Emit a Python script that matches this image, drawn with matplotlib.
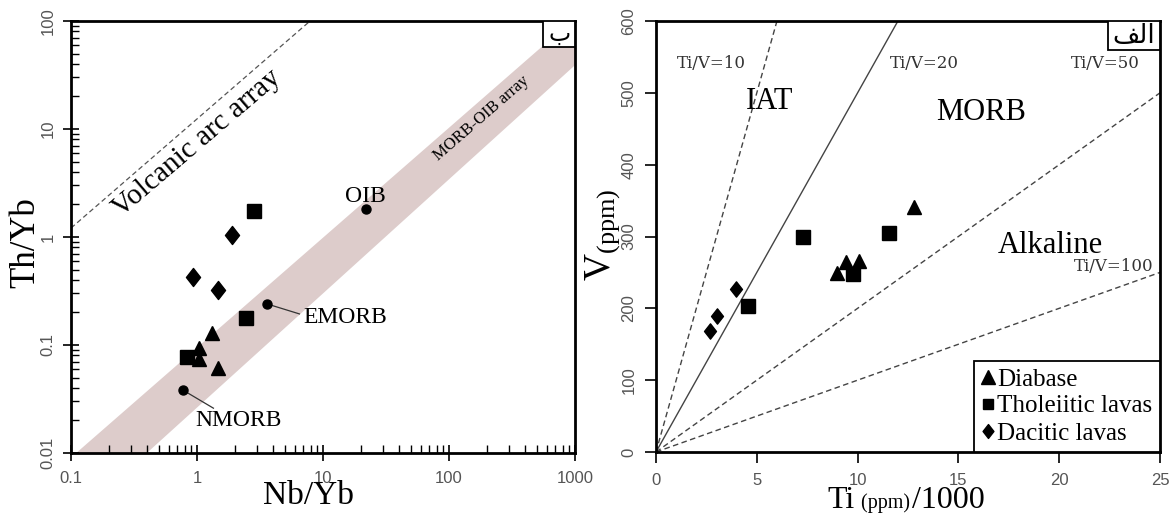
import numpy as np
import matplotlib
matplotlib.use("Agg")
import matplotlib.pyplot as plt
from matplotlib.lines import Line2D
from matplotlib.patches import Rectangle, Polygon
from matplotlib.path import Path
from matplotlib.offsetbox import TextArea, HPacker, AnchoredOffsetbox

plt.rcParams['mathtext.fontset'] = 'custom'
plt.rcParams['mathtext.rm'] = 'Liberation Serif'
plt.rcParams['mathtext.it'] = 'Liberation Serif:italic'

# ---------------- data: Th/Yb vs Nb/Yb (panel ب) ----------------
dia_nbyb = [1.31, 1.035, 1.035, 1.48]
dia_thyb = [0.130, 0.093, 0.074, 0.061]
tho_nbyb = [2.82, 2.46, 0.83]
tho_thyb = [1.75, 0.179, 0.078]
dac_nbyb = [1.88, 0.935, 1.46]
dac_thyb = [1.04, 0.43, 0.32]
ref_names = ["NMORB", "EMORB", "OIB"]
ref_nbyb = [0.78, 3.6, 22.0]
ref_thyb = [0.038, 0.24, 1.80]
# MORB-OIB array edges (Nb/Yb, Th/Yb)
band_upper = [(0.11, 0.01), (1000.0, 107.0)]
band_lower = [(0.40, 0.01), (1000.0, 39.0)]
arc_line = [(0.1, 1.21), (7.9, 100.0)]
x_ticks_l = [0.1, 1, 10, 100, 1000]
x_ticklabels_l = ["0.1", "1", "10", "100", "1000"]
y_ticks_l = [0.01, 0.1, 1, 10, 100]
y_ticklabels_l = ["0.01", "0.1", "1", "10", "100"]

# ---------------- data: V vs Ti/1000 (panel الف) ----------------
dia_ti = [8.98, 9.43, 10.06, 12.78]
dia_v = [249, 265, 266, 341]
tho_ti = [4.57, 7.27, 9.78, 11.56]
tho_v = [203, 300, 248, 305]
dac_ti = [2.70, 3.05, 3.97]
dac_v = [168, 189, 227]
tiv_ratios = [10, 20, 50, 100]
tiv_styles = ['--', '-', '--', '--']
x_ticks_r = [0, 5, 10, 15, 20, 25]
y_ticks_r = [0, 100, 200, 300, 400, 500, 600]

serif = 'Liberation Serif'
sans = 'Liberation Sans'
tickcol = '#555555'

# custom diamond marker (taller than wide)
diamond = Path([(0, 1), (0.78, 0), (0, -1), (-0.78, 0), (0, 1)],
               [Path.MOVETO, Path.LINETO, Path.LINETO, Path.LINETO, Path.CLOSEPOLY])

fig = plt.figure(figsize=(11.71, 5.15), dpi=100)
axL = fig.add_axes([71/1171, 62/515, 504/1171, 432/515])
axR = fig.add_axes([656/1171, 63/515, 504/1171, 431/515])

# ======================= LEFT PANEL =======================
axL.set_xscale('log')
axL.set_yscale('log')
axL.set_xlim(0.1, 1000)
axL.set_ylim(0.01, 100)

(ux0, uy0), (ux1, uy1) = band_upper
(lx0, ly0), (lx1, ly1) = band_lower
poly = Polygon([(ux0, uy0), (ux1, uy1), (lx1, ly1), (lx0, ly0)], closed=True,
               facecolor='#ddcccb', edgecolor='none', zorder=1)
axL.add_patch(poly)

axL.plot([arc_line[0][0], arc_line[1][0]], [arc_line[0][1], arc_line[1][1]],
         ls=(0, (4, 2.5)), color='#555555', lw=0.9, zorder=2)

axL.text(1.0, 7.3, "Volcanic arc array", family=serif, fontsize=21,
         rotation=40.5, ha='center', va='center', rotation_mode='anchor', zorder=3)
axL.text(180, 12.5, "MORB-OIB array", family=serif, fontsize=12,
         rotation=41, ha='center', va='center', rotation_mode='anchor', zorder=3)

axL.plot(ref_nbyb, ref_thyb, 'o', color='black', ms=6.5, zorder=4)
axL.text(21.5, 2.35, "OIB", family=serif, fontsize=17, ha='center', va='center', zorder=5)
axL.text(15.0, 0.18, "EMORB", family=serif, fontsize=17, ha='center', va='center', zorder=5)
axL.text(2.15, 0.0202, "NMORB", family=serif, fontsize=17, ha='center', va='center', zorder=5)
axL.plot([3.6, 6.5], [0.24, 0.194], color='#333333', lw=0.9, zorder=3)
axL.plot([0.78, 1.35], [0.038, 0.026], color='#333333', lw=0.9, zorder=3)

axL.plot(dia_nbyb, dia_thyb, '^', color='black', ms=10, ls='none', zorder=5)
axL.plot(tho_nbyb, tho_thyb, 's', color='black', ms=10, ls='none', zorder=5)
axL.plot(dac_nbyb, dac_thyb, marker=diamond, color='black', ms=13, ls='none', zorder=5)

axL.set_xticks(x_ticks_l)
axL.set_xticklabels(x_ticklabels_l)
axL.set_yticks(y_ticks_l)
axL.set_yticklabels(y_ticklabels_l, rotation=90, va='center')
axL.tick_params(which='major', direction='inout', length=12, width=1.2,
                labelsize=12, labelcolor=tickcol, pad=5)
axL.tick_params(axis='x', which='major', pad=7)
axL.tick_params(which='minor', direction='in', length=6, width=1.0)
for lab in axL.get_xticklabels() + axL.get_yticklabels():
    lab.set_family(sans)
for s in axL.spines.values():
    s.set_linewidth(2.0)

axL.set_xlabel("Nb/Yb", family=serif, fontsize=24)
axL.xaxis.set_label_coords(0.472, -0.1)
axL.xaxis.label.set_va('center')
axL.set_ylabel("Th/Yb", family=serif, fontsize=25)
axL.yaxis.set_label_coords(-0.089, 0.488)
axL.yaxis.label.set_va('center')

axL.add_patch(Rectangle((0.937, 0.9405), 0.063, 0.0595, transform=axL.transAxes,
                        facecolor='white', edgecolor='black', lw=1.3, zorder=6))
axL.text(0.9685, 0.970, "\u0628", transform=axL.transAxes, family=['DejaVu Sans'],
         fontsize=17, ha='center', va='center', zorder=7)

# ======================= RIGHT PANEL =======================
axR.set_xlim(0, 25)
axR.set_ylim(0, 600)

xx = np.array([0.0, 25.0])
for r, st in zip(tiv_ratios, tiv_styles):
    slope = 1000.0 / r
    axR.plot(xx, slope * xx, ls=st if st == '-' else (0, (4, 2.5)),
             color='#444444', lw=1.0, zorder=2)

lab_kw = dict(family='DejaVu Serif', fontsize=12, color='#333333',
              ha='center', va='center')
axR.text(2.75, 541, "Ti/V=10", **lab_kw)
axR.text(13.3, 541, "Ti/V=20", **lab_kw)
axR.text(22.3, 541, "Ti/V=50", **lab_kw)
axR.text(22.7, 258, "Ti/V=100", **lab_kw)

reg_kw = dict(family=serif, fontsize=22, ha='center', va='center')
axR.text(5.65, 488, "IAT", **reg_kw)
axR.text(16.1, 473, "MORB", **reg_kw)
axR.text(19.55, 288, "Alkaline", **reg_kw)

axR.plot(dia_ti, dia_v, '^', color='black', ms=10, ls='none', zorder=5)
axR.plot(tho_ti, tho_v, 's', color='black', ms=9.5, ls='none', zorder=5)
axR.plot(dac_ti, dac_v, marker=diamond, color='black', ms=11, ls='none', zorder=5)

handles = [Line2D([], [], marker='^', color='black', ls='none', ms=10),
           Line2D([], [], marker='s', color='black', ls='none', ms=7),
           Line2D([], [], marker=diamond, color='black', ls='none', ms=10)]
leg = axR.legend(handles, ["Diabase", "Tholeiitic lavas", "Dacitic lavas"],
                 loc='lower right', bbox_to_anchor=(1.0, 0.0), borderaxespad=0,
                 prop={'family': serif, 'size': 18}, handlelength=0.55,
                 handletextpad=0.1, labelspacing=0.18, borderpad=0.3,
                 fancybox=False, frameon=True, framealpha=1, edgecolor='black')
leg.get_frame().set_linewidth(1.3)

axR.set_xticks(x_ticks_r)
axR.set_yticks(y_ticks_r)
axR.set_yticklabels([str(v) for v in y_ticks_r], rotation=90, va='center')
axR.tick_params(which='major', direction='out', length=8, width=1.2,
                labelsize=12, labelcolor=tickcol, pad=6)
axR.tick_params(axis='x', pad=7)
for lab in axR.get_xticklabels() + axR.get_yticklabels():
    lab.set_family(sans)
for s in axR.spines.values():
    s.set_linewidth(2.0)

# x label "Ti (ppm)/1000" with small "(ppm)" on a common baseline
xl_box = HPacker(children=[TextArea("Ti", textprops=dict(family=serif, fontsize=23)),
                           TextArea(" (ppm)", textprops=dict(family=serif, fontsize=14.5)),
                           TextArea("/1000", textprops=dict(family=serif, fontsize=23))],
                 align='baseline', pad=0, sep=1)
fig.add_artist(AnchoredOffsetbox(loc='center', child=xl_box, pad=0, borderpad=0,
                                 frameon=False, bbox_to_anchor=(0.496, -0.112),
                                 bbox_transform=axR.transAxes))

axR.set_ylabel(r"$\mathrm{V}_{\mathrm{(ppm)}}$", fontsize=27)
axR.yaxis.set_label_coords(-0.107, 0.503)
axR.yaxis.label.set_va('center')

axR.add_patch(Rectangle((0.897, 0.932), 0.103, 0.068, transform=axR.transAxes,
                        facecolor='white', edgecolor='black', lw=1.3, zorder=6))
axR.text(0.9485, 0.965, "\uFED2\uFEDF\uFE8D", transform=axR.transAxes,
         family=['DejaVu Sans'], fontsize=19, ha='center', va='center', zorder=7)

fig.savefig("out.png", dpi=100)
